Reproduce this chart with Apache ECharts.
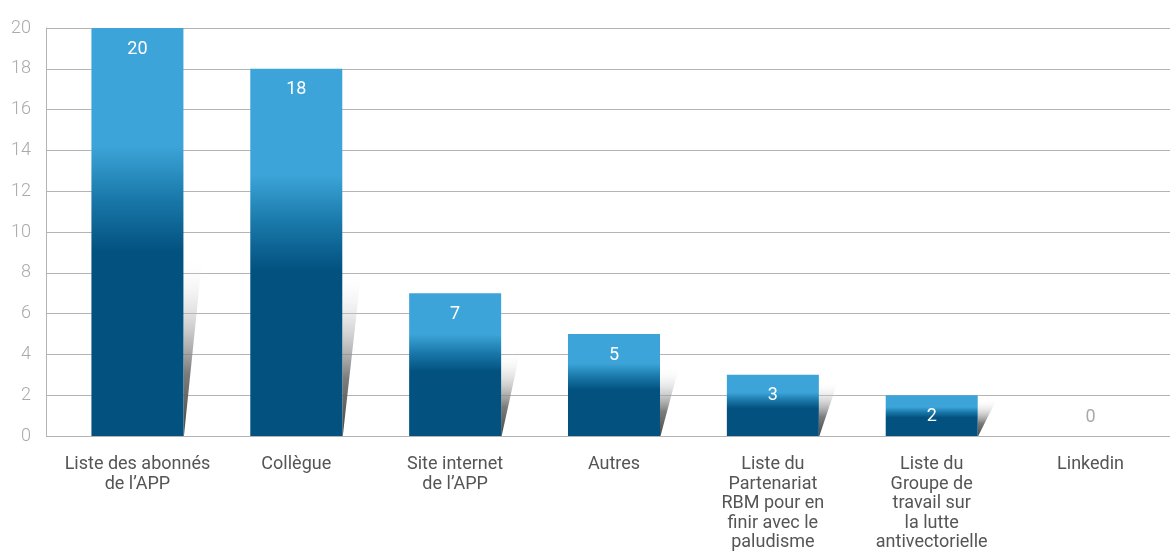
<!DOCTYPE html>
<html>
<head>
<meta charset="utf-8">
<script src="https://cdn.jsdelivr.net/npm/echarts@6/dist/echarts.min.js"></script>
<style>
	html, body { margin: 0; padding: 0; background: #fff; }
	#chart { width: 1170px; height: 556px; }
</style>
</head>
<body>
<div id="chart"></div>
<script>
var categories = [
	"Liste des abonnés\nde l’APP",
	"Collègue",
	"Site internet\nde l’APP",
	"Autres",
	"Liste du\nPartenariat\nRBM pour en\nfinir avec le\npaludisme",
	"Liste du\nGroupe de\ntravail sur\nla lutte\nantivectorielle",
	"Linkedin"
];
var values = [20, 18, 7, 5, 3, 2, 0];
var yTicks = { min: 0, max: 20, interval: 2 };

var light = '#3ca4d8';
var dark = '#02517f';

// decorative slanted shadow right of each bar, height derived from the value
function shadowHeight(v) {
	return Math.min(v * 0.9, 1.6 + 0.36 * v);
}

var chart = echarts.init(document.getElementById('chart'), null, { renderer: 'canvas' });

var barData = values.map(function(v) {
	var item = {
		value: v,
		itemStyle: {
			color: new echarts.graphic.LinearGradient(0, 0, 0, 1, [
				{ offset: 0, color: light },
				{ offset: 0.29, color: light },
				{ offset: 0.42, color: '#1978a9' },
				{ offset: 0.55, color: dark },
				{ offset: 1, color: dark }
			])
		}
	};
	if (v === 0) {
		item.label = { position: 'top', color: '#aaaaaa', distance: 10 };
	}
	return item;
});

var option = {
	animation: false,
	textStyle: { fontFamily: 'Roboto' },
	grid: [
		{ left: 46, right: 0, top: 28, bottom: 120 },
		{ left: 58, right: 0, top: 28, bottom: 120 }
	],
	xAxis: [
		{
			gridIndex: 0, type: 'value', show: false, min: 0, max: 1
		},
		{
			gridIndex: 1,
			type: 'category',
			data: categories,
			axisLine: { show: false },
			axisTick: { show: false },
			axisLabel: {
				color: '#555555',
				fontSize: 18,
				lineHeight: 19.5,
				margin: 19,
				interval: 0,
				verticalAlign: 'top'
			}
		}
	],
	yAxis: [
		{
			gridIndex: 0,
			type: 'value',
			min: yTicks.min,
			max: yTicks.max,
			interval: yTicks.interval,
			axisLine: { show: true, lineStyle: { color: '#b4b4b4', width: 1 } },
			axisTick: { show: false },
			splitLine: { lineStyle: { color: '#b4b4b4', width: 1 } },
			axisLabel: { color: '#aaaaaa', fontSize: 18, fontWeight: 300, margin: 15 }
		},
		{
			gridIndex: 1,
			type: 'value',
			min: yTicks.min,
			max: yTicks.max,
			interval: yTicks.interval,
			show: false,
			splitLine: { show: false }
		}
	],
	series: [
		{
			type: 'custom',
			xAxisIndex: 1,
			yAxisIndex: 1,
			silent: true,
			data: values.map(function(v, i) { return [i, v]; }),
			renderItem: function(params, api) {
				var i = api.value(0);
				var v = api.value(1);
				if (!v) return null;
				var base = api.coord([i, 0]);
				var top = api.coord([i, shadowHeight(v)]);
				var half = 46;
				var xr = base[0] + half;
				var w = 19;
				var pts = [
					[xr, base[1]],
					[xr, top[1] + 3],
					[xr + w, top[1]],
					[xr + 0.5, base[1]]
				];
				return {
					type: 'polygon',
					shape: { points: pts },
					style: {
						fill: new echarts.graphic.LinearGradient(0, 1, 0, 0, [
							{ offset: 0, color: 'rgba(70,70,70,1)' },
							{ offset: 0.35, color: 'rgba(110,110,110,0.9)' },
							{ offset: 1, color: 'rgba(255,255,255,0)' }
						])
					}
				};
			},
			z: 1
		},
		{
			type: 'bar',
			xAxisIndex: 1,
			yAxisIndex: 1,
			barWidth: 92,
			data: barData,
			label: {
				show: true,
				position: 'insideTop',
				distance: 12,
				color: '#ffffff',
				fontSize: 18
			},
			z: 2
		}
	]
};

chart.setOption(option);
</script>
</body>
</html>
